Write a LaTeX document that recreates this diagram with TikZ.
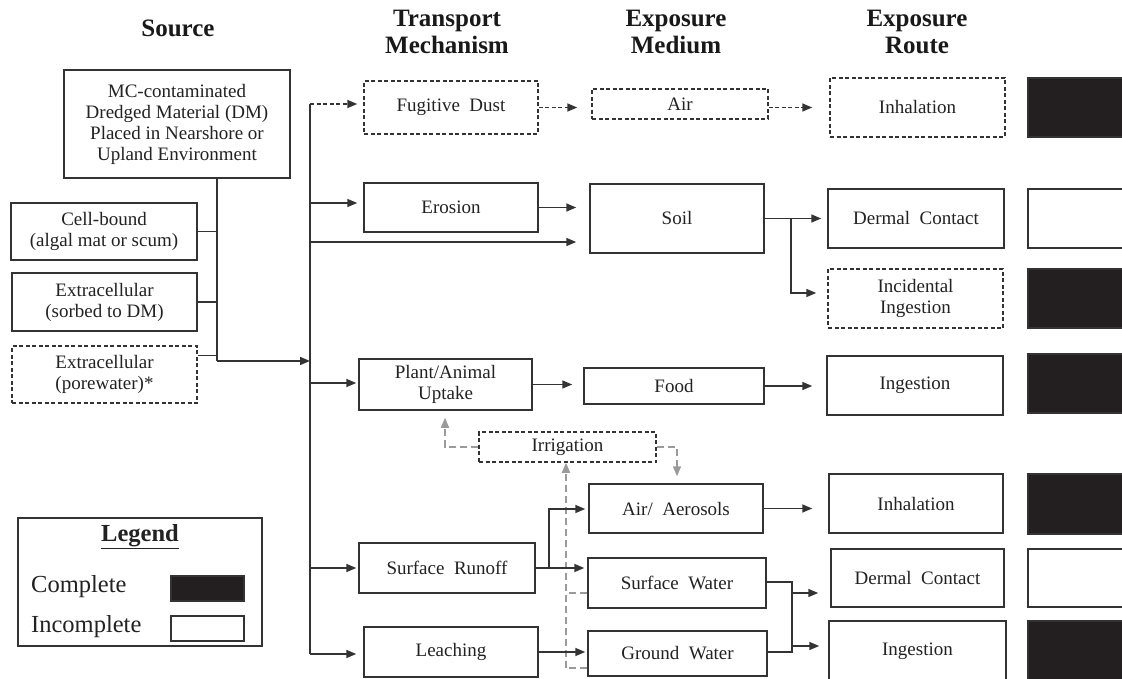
\documentclass[tikz,border=0pt]{standalone}
\usepackage{fontspec}
\setmainfont{Liberation Serif}
\usetikzlibrary{arrows.meta}
\definecolor{lc}{HTML}{333333}
\definecolor{kf}{HTML}{231F20}
\definecolor{gc}{HTML}{9A9A9A}
\definecolor{tc}{HTML}{222222}
\newcommand\bxfont{\fontsize{19}{21}\selectfont}
\newcommand\hdfont{\fontsize{25}{27}\selectfont\bfseries}
\newcommand\lgfont{\fontsize{24.5}{28}\selectfont}
\begin{document}
\begin{tikzpicture}[x=1pt,y=-1pt,
  box/.style={draw=lc, line width=1.5pt, inner sep=0pt, align=center, font=\bxfont, text=tc},
  dbox/.style={box, dash pattern=on 4pt off 2.5pt},
  sz/.style 2 args={minimum width=#1pt, minimum height=#2pt},
  hd/.style={align=center, font=\hdfont, text=black!90, inner sep=0pt},
  ln/.style={draw=lc, line width=1.5pt},
  arr/.style={ln, -{Triangle[length=10pt,width=8pt]}},
  darr/.style={arr, dash pattern=on 4pt off 2.5pt},
  gln/.style={draw=gc, line width=1.5pt, dash pattern=on 7pt off 4pt},
  garr/.style={gln, -{Triangle[length=10pt,width=8pt]}},
  sq/.style={draw=lc, line width=1.5pt}
]
\useasboundingbox (0,0) rectangle (1122,679);
\fill[white] (0,0) rectangle (1122,679);

% headers
\node[hd] (hsrc) at (178,28) {Source};
\node[hd] (htr) at (447,31.5) {Transport\\Mechanism};
\node[hd] (hme) at (676,31.5) {Exposure\\Medium};
\node[hd] (hro) at (917,31.5) {Exposure\\Route};

% source boxes
\node[box, sz={226}{108}] (src) at (177,124) {MC-contaminated\\Dredged Material (DM)\\Placed in Nearshore or\\Upland Environment};
\node[box, sz={186}{57}] (cell) at (104,231.5) {Cell-bound\\(algal mat or scum)};
\node[box, sz={185}{58}] (sorb) at (104.5,302) {Extracellular\\(sorbed to DM)};
\node[dbox, sz={185}{57}] (pore) at (104.5,374.5) {Extracellular\\(porewater)*};

% transport
\node[dbox, sz={174}{53}] (fug) at (451,107.5) {Fugitive \ Dust};
\node[box, sz={174}{49}] (ero) at (451,207.5) {Erosion};
\node[box, sz={173}{51}] (plant) at (445.5,384.5) {Plant/Animal\\Uptake};
\node[box, sz={176}{50}] (runoff) at (447,568) {Surface \ Runoff};
\node[box, sz={174}{50}] (leach) at (451,652) {Leaching};

% medium
\node[dbox, sz={176}{30}] (air) at (680,104) {Air};
\node[box, sz={174}{69}] (soil) at (677,218.5) {Soil};
\node[box, sz={180}{36}] (food) at (674,386) {Food};
\node[dbox, sz={177}{30}] (irr) at (567.5,447) {Irrigation};
\node[box, sz={174}{49}] (aer) at (676,508.5) {Air/ \ Aerosols};
\node[box, sz={178}{50}] (sw) at (677,583) {Surface \ Water};
\node[box, sz={179}{45}] (gw) at (677.5,653.5) {Ground \ Water};

% route
\node[dbox, sz={175}{59}] (inh1) at (917.5,107.5) {Inhalation};
\node[box, sz={176}{59}] (derm1) at (916,218.5) {Dermal \ Contact};
\node[dbox, sz={175}{59}] (incid) at (915.5,298.5) {Incidental\\Ingestion};
\node[box, sz={176}{59}] (ing1) at (915,385.5) {Ingestion};
\node[box, sz={174}{59}] (inh2) at (916,503.5) {Inhalation};
\node[box, sz={173}{58}] (derm2) at (917.5,578) {Dermal \ Contact};
\node[box, sz={177}{60}] (ing2) at (917.5,651) {Ingestion};

% completeness squares
\foreach \ya/\yb/\f in {78/137/kf, 189/248/white, 269/328/kf, 354/413/kf, 474/534/kf, 549/607/white, 621/681/kf}
  \filldraw[sq, fill=\f] (1028,\ya) rectangle (1140,\yb);

% source trunk
\coordinate (tj) at (217,361);
\coordinate (pc) at ([yshift=-10pt]pore.north east);
\draw[ln] (src.south -| tj) -- (tj);
\draw[ln] (cell.east) -- (cell.east -| tj);
\draw[ln] (sorb.east) -- (sorb.east -| tj);
\draw[ln] (pc) -- (pc -| tj);

% main line
\coordinate (mtop) at (310,104);
\coordinate (mbot) at (310,654);
\draw[ln] (mtop) -- (mbot);
\draw[arr] (tj) -- (tj -| mtop);
\draw[darr, shorten >=6pt] (mtop) -- (mtop -| fug.west);
\coordinate (m1) at (310,203);
\draw[arr, shorten >=6pt] (m1) -- (m1 -| ero.west);
\coordinate (m2) at (310,242);
\draw[arr, shorten >=13pt] (m2) -- (m2 -| soil.west);
\coordinate (m3) at (310,383);
\draw[arr, shorten >=2pt] (m3) -- (m3 -| plant.west);
\coordinate (m4) at (310,568);
\draw[arr, shorten >=2pt] (m4) -- (m4 -| runoff.west);
\draw[arr, shorten >=7pt] (mbot) -- (mbot -| leach.west);

% irrigation (gray)
\coordinate (il) at (445,447);
\draw[garr, shorten >=7pt] (irr.west) -- (il) -- (il |- plant.south);
\coordinate (ir) at (677,447);
\draw[garr, shorten >=7pt] (irr.east) -- (ir) -- (ir |- aer.north);
\coordinate (ib) at (566,668);
\coordinate (is) at (566,593);
\draw[gln] (gw.west |- ib) -- (ib);
\draw[garr] (ib) -- (ib |- irr.south);
\draw[gln] (sw.west |- is) -- (is);

% transport -> medium -> route
\draw[darr, shorten >=14pt] (fug.east) -- (fug.east -| air.west);
\draw[darr, shorten >=17pt] (inh1.west -| air.east) -- (inh1.west);
\draw[arr, shorten >=13pt] (ero.east) -- (ero.east -| soil.west);
\coordinate (sb) at (791,218.5);
\coordinate (sb2) at (791,293);
\draw[arr, shorten >=6pt] (soil.east) -- (derm1.west);
\draw[arr, shorten >=11pt] (sb) -- (sb2) -- (sb2 -| incid.west);
\draw[arr, shorten >=11pt] (plant.east) -- (plant.east -| food.west);
\draw[arr, shorten >=14pt] (food.east) -- (food.east -| ing1.west);

\coordinate (rj) at (549,568);
\coordinate (rj2) at (549,509);
\draw[arr, shorten >=3pt] (runoff.east) -- (runoff.east -| sw.west);
\draw[arr, shorten >=3pt] (rj) -- (rj2) -- (rj2 -| aer.west);
\draw[arr, shorten >=2pt] (leach.east) -- (leach.east -| gw.west);
\draw[arr, shorten >=16pt] (aer.east) -- (aer.east -| inh2.west);

\coordinate (wj1) at (792,582);
\coordinate (wj2) at (792,652);
\draw[ln] (sw.east |- wj1) -- (wj1) -- (wj2) -- (gw.east |- wj2);
\coordinate (wa1) at (792,593);
\coordinate (wa2) at (792,646);
\draw[arr, shorten >=12pt] (wa1) -- (wa1 -| derm2.west);
\draw[arr, shorten >=9pt] (wa2) -- (wa2 -| ing2.west);

% legend
\node[draw=lc, line width=1.5pt, minimum width=244pt, minimum height=128pt, inner sep=0pt] (leg) at (140,582) {};
\node[font=\lgfont\bfseries, text=tc, inner sep=0pt] (legt) at (140,537) {\underline{Legend}};
\node[font=\lgfont, text=tc, anchor=west, inner sep=0pt] (lg1) at (31,587) {Complete};
\node[font=\lgfont, text=tc, anchor=west, inner sep=0pt] (lg2) at (31,627) {Incomplete};
\filldraw[sq, fill=kf] (171,576) rectangle (244,601);
\draw[sq] (171,616) rectangle (244,641);
\end{tikzpicture}
\end{document}
